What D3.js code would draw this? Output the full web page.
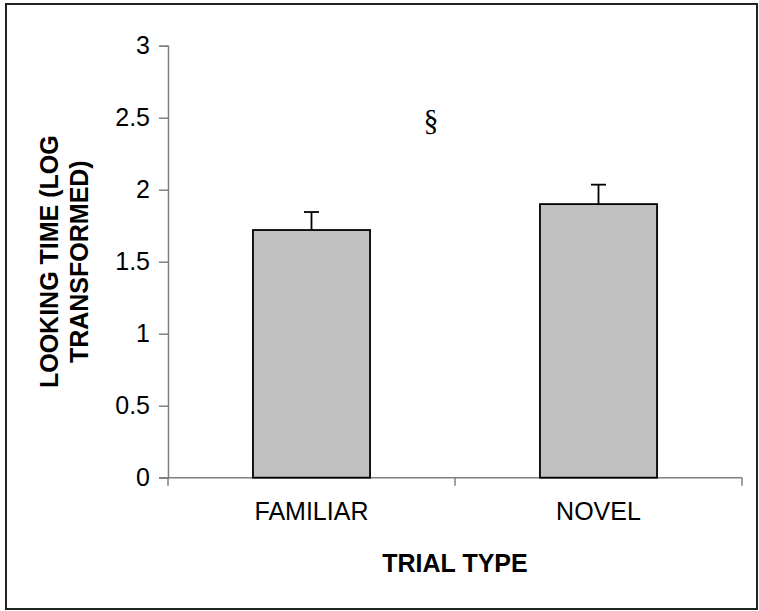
<!DOCTYPE html>
<html>
<head>
<script src="https://d3js.org/d3.v7.min.js" charset="utf-8"></script>
<style>
    body{margin:0;background:#fff;font-family:"Liberation Sans",Arial,sans-serif;}
</style>
</head>
<body>
<div id="chart"></div>
<script>
    var categories = ["FAMILIAR","NOVEL"]
    var means = [1.72,1.90]
    var errors = [0.125,0.135]
    var yTicks = [0,0.5,1,1.5,2,2.5,3]
    var marker = "§"

    var width = 759, height = 611
    var plotLeft = 168, plotRight = 742, plotTop = 45.7, plotBottom = 477.7
    var fontSize = 25

    var svg = d3.select("#chart").append("svg")
        .attr("width",width).attr("height",height)

    // outer frame
    svg.append("rect")
        .attr("x",6).attr("y",4).attr("width",751).attr("height",605)
        .attr("fill","none").attr("stroke","#222").attr("stroke-width",2)

    var y = d3.scaleLinear().domain([0,3]).range([plotBottom,plotTop])
    var x = d3.scaleBand().domain(categories).range([plotLeft,plotRight]).paddingInner(0).paddingOuter(0)
    var barW = x.bandwidth()*0.408

    // y axis
    var yAxis = svg.append("g").attr("transform","translate("+plotLeft+",0)")
        .call(d3.axisLeft(y).tickValues(yTicks).tickSize(9).tickPadding(9)
            .tickFormat(function(d){return d}))
    yAxis.select(".domain").attr("stroke","#808080").attr("stroke-width",1.5)
    yAxis.selectAll(".tick line").attr("stroke","#808080").attr("stroke-width",1.5)
    yAxis.selectAll("text").attr("font-size",fontSize).attr("fill","#000")
        .attr("font-family","Liberation Sans, Arial, sans-serif")

    // x axis (ticks at band edges)
    var xg = svg.append("g")
    xg.append("line").attr("x1",plotLeft-9).attr("x2",plotRight).attr("y1",plotBottom).attr("y2",plotBottom)
        .attr("stroke","#808080").attr("stroke-width",1.5)
    var edges = categories.map(function(c){return x(c)}).concat([plotRight])
    xg.selectAll(".xt").data(edges).enter().append("line")
        .attr("x1",function(d){return d}).attr("x2",function(d){return d})
        .attr("y1",plotBottom).attr("y2",plotBottom+8)
        .attr("stroke","#808080").attr("stroke-width",1.5)
    xg.selectAll(".xl").data(categories).enter().append("text")
        .attr("x",function(d){return x(d)+x.bandwidth()/2})
        .attr("y",plotBottom+42)
        .attr("text-anchor","middle").attr("font-size",fontSize)
        .text(function(d){return d})

    // bars
    svg.selectAll(".bar").data(categories).enter().append("rect")
        .attr("x",function(d){return x(d)+x.bandwidth()/2-barW/2})
        .attr("y",function(d,i){return y(means[i])})
        .attr("width",barW)
        .attr("height",function(d,i){return plotBottom-y(means[i])})
        .attr("fill","#c0c0c0").attr("stroke","#000").attr("stroke-width",1.8)

    // error bars
    categories.forEach(function(c,i){
        var cx = x(c)+x.bandwidth()/2
        svg.append("line").attr("x1",cx).attr("x2",cx)
            .attr("y1",y(means[i])).attr("y2",y(means[i]+errors[i]))
            .attr("stroke","#000").attr("stroke-width",1.8)
        svg.append("line").attr("x1",cx-7.5).attr("x2",cx+7.5)
            .attr("y1",y(means[i]+errors[i])).attr("y2",y(means[i]+errors[i]))
            .attr("stroke","#000").attr("stroke-width",1.8)
    })

    // significance marker
    svg.append("text").attr("x",431).attr("y",130)
        .attr("text-anchor","middle").attr("font-size",30)
        .attr("font-family","Liberation Serif, Times New Roman, serif")
        .text(marker)

    // axis titles
    svg.append("text").attr("x",(plotLeft+plotRight)/2).attr("y",572)
        .attr("text-anchor","middle").attr("font-size",fontSize).attr("font-weight","bold")
        .text("TRIAL TYPE")

    var yt = svg.append("text")
        .attr("transform","translate(0,"+((plotTop+plotBottom)/2)+") rotate(-90)")
        .attr("text-anchor","middle").attr("font-size",fontSize).attr("font-weight","bold")
    yt.append("tspan").attr("x",0).attr("y",58).text("LOOKING TIME (LOG")
    yt.append("tspan").attr("x",0).attr("y",88).text("TRANSFORMED)")
</script>
</body>
</html>
